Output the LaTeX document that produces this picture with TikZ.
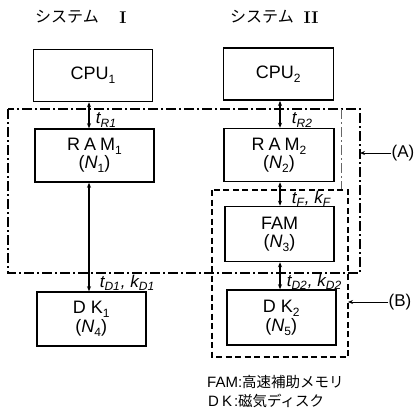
\documentclass[tikz,border=0pt]{standalone}
\usepackage{fontspec}
\setsansfont{Liberation Sans}
\newfontfamily\jp{Noto Sans CJK JP}
\usetikzlibrary{arrows.meta}
\newcommand\sbs[1]{\raisebox{-0.4ex}{\fontsize{12}{12}\selectfont #1}}
\begin{document}
\begin{tikzpicture}[x=1pt,y=-1pt,
  box/.style={draw,line width=1.5pt,inner sep=0pt,font=\sffamily\fontsize{18}{21}\selectfont,align=center},
  link/.style={line width=1.5pt,{Stealth[length=5pt,width=4pt]}-{Stealth[length=5pt,width=4pt]}},
  dashdot/.style={line width=1.3pt,dash pattern=on 10pt off 3pt on 2pt off 3pt},
  dashbox/.style={line width=1.3pt,dash pattern=on 6pt off 3.5pt},
  lab/.style={font=\sffamily\itshape\fontsize{17}{19}\selectfont,inner sep=0pt},
  ptr/.style={line width=1pt,-{Stealth[length=5pt,width=4pt]}},
  plab/.style={font=\sffamily\fontsize{17}{19}\selectfont,inner sep=0pt},
  title/.style={inner sep=0pt,font=\jp\fontsize{16}{18}\selectfont},
  numeral/.style={inner sep=0pt,font=\rmfamily\bfseries\fontsize{17}{18}\selectfont},
  legend/.style={inner sep=0pt,anchor=west,font=\sffamily\fontsize{15}{17}\selectfont},
]
\useasboundingbox (0,0) rectangle (417,415);

% titles
\node[title] (T1) at (67,17) {システム};
\node[numeral] (T1n) at (123,18) {I};
\node[title] (T2) at (262,17) {システム};
\node[numeral] (T2n) at (311,18) {II};

% boxes
\node[box,minimum width=119pt,minimum height=52pt] (CPU1) at (93,75.5) {CPU\sbs{1}};
\node[box,minimum width=119pt,minimum height=53pt] (RAM1) at (94.5,155.5) {R\kern4pt A\kern4pt M\sbs{1}\\[-3pt] (\textit{N}\sbs{1})};
\node[box,minimum width=109pt,minimum height=54pt] (DK1) at (91.3,319) {D\kern5pt K\sbs{1}\\[-2pt] (\textit{N}\sbs{4})};

\node[box,minimum width=110pt,minimum height=52pt] (CPU2) at (278.3,74.2) {CPU\sbs{2}};
\node[box,minimum width=110pt,minimum height=53pt] (RAM2) at (279,155) {R\kern4pt A\kern4pt M\sbs{2}\\[-3pt] (\textit{N}\sbs{2})};
\node[box,minimum width=109pt,minimum height=55pt] (FAM) at (279.5,234) {FAM\\[-3pt] (\textit{N}\sbs{3})};
\node[box,minimum width=109pt,minimum height=55pt] (DK2) at (281.3,317.5) {D\kern5pt K\sbs{2}\\[-2pt] (\textit{N}\sbs{5})};

% connector columns
\coordinate (c1) at (89,0);
\coordinate (c2) at (280,0);
\draw[link] (CPU1.south -| c1) -- (RAM1.north -| c1);
\draw[link] (RAM1.south -| c1) -- (DK1.north -| c1);
\draw[link] (CPU2.south -| c2) -- (RAM2.north -| c2);
\draw[link] (RAM2.south -| c2) -- (FAM.north -| c2);
\draw[link] (FAM.south -| c2) -- (DK2.north -| c2);

% connector labels
\node[lab] (l1) at (106,120) {t\sbs{\itshape R1}};
\node[lab] (l2) at (302,120) {t\sbs{\itshape R2}};
\node[lab] (l3) at (311,199) {t\sbs{\itshape F}\kern1pt, k\sbs{\itshape F}};
\node[lab] (l4) at (127,283) {t\sbs{\itshape D1}\kern1pt, k\sbs{\itshape D1}};
\node[lab] (l5) at (314,282) {t\sbs{\itshape D2}\kern1pt, k\sbs{\itshape D2}};

% region A (dash-dot) and region B (dashed)
\draw[dashdot] (8,109) rectangle (360,273);
\draw[dashdot,line width=0.7pt,black!60] (341,109) -- (341,190);
\draw[dashbox] (212,190) rectangle (348,357);

\coordinate (Ap) at (360,153);
\coordinate (Bp) at (348,302);
\node[plab] (A) at (403,153) {(A)};
\node[plab] (B) at (400,302) {(B)};
\draw[ptr] (A.west) -- (Ap);
\draw[ptr] (B.west) -- (Bp);

% legend
\node[legend] (L1) at (207,382) {FAM:{\jp\fontsize{14.5}{16}\selectfont 高速補助メモリ}};
\node[legend] (L2) at (208,401) {D\kern3pt K\kern2pt:{\jp\fontsize{14.5}{16}\selectfont 磁気ディスク}};
\end{tikzpicture}
\end{document}
